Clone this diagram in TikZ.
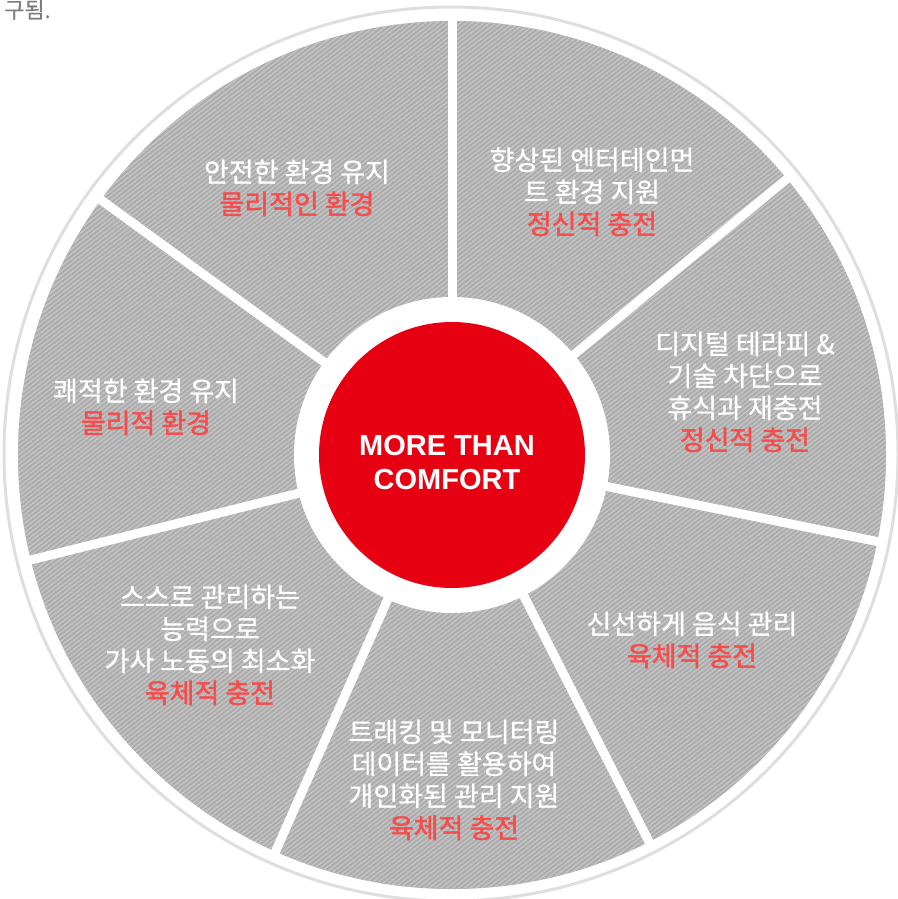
\documentclass[tikz,border=0pt]{standalone}
\usepackage{fontspec}
\setmainfont{Liberation Sans}
\newfontfamily\kr{Noto Sans CJK KR}[FakeBold=0.7]
\newfontfamily\krb{Noto Sans CJK KR}[FakeBold=1.6]
\usetikzlibrary{patterns.meta}
\definecolor{sectgray}{RGB}{172,172,172}
\definecolor{stripe}{RGB}{198,198,198}
\definecolor{ringgray}{RGB}{222,222,222}
\definecolor{corered}{RGB}{230,0,18}
\definecolor{labelred}{RGB}{246,76,76}
\definecolor{notegray}{RGB}{125,125,125}
\newcommand{\redline}[1]{{\krb\color{labelred}#1}}
\begin{document}
\begin{tikzpicture}[x=1pt,y=-1pt,
  lbl/.style={font=\kr\fontsize{27}{32}\selectfont, text=white, align=center, anchor=base, inner sep=0pt},
  sepline/.style={white, line width=9pt},
  sector/.style={preaction={fill=sectgray}, pattern={Lines[angle=38,distance=3.6pt,line width=1.3pt]}, pattern color=stripe},
  corecircle/.style={circle, fill=corered, minimum size=266pt, inner sep=0pt},
  coretext/.style={font=\bfseries\fontsize{29}{34}\selectfont, text=white, align=center, anchor=base, inner sep=0pt}]
\useasboundingbox (0,0) rectangle (897,899);
\coordinate (C) at (452,455);
\draw[ringgray, line width=3pt] (451,454) circle[radius=447pt];
\fill[sector] (C) circle[radius=434pt];
\foreach \a [count=\i] in {90,39.5,-11.5,-63,-114,-166,144}
  \draw[sepline] (C) -- ++(\a:441pt) coordinate (s\i);
\fill[white] (C) circle[radius=158pt];
\node[corecircle] (core) at (C) {};
\node[coretext] (coretxt) at (447,489) {MORE THAN\\COMFORT};
\node[anchor=base west, inner sep=0pt, font=\kr\fontsize{22}{26}\selectfont, text=notegray] (note) at (4,18) {구됨.};
\node[lbl] (l1) at (297,214) {안전한 환경 유지\\\redline{물리적인 환경}};
\node[lbl] (l2) at (592,234) {향상된 엔터테인먼\\트 환경 지원\\\redline{정신적 충전}};
\node[lbl] (l3) at (745,450) {디지털 테라피 \&\\기술 차단으로\\휴식과 재충전\\\redline{정신적 충전}};
\node[lbl] (l4) at (692,666) {신선하게 음식 관리\\\redline{육체적 충전}};
\node[lbl] (l5) at (454,838) {트래킹 및 모니터링\\데이터를 활용하여\\개인화된 관리 지원\\\redline{육체적 충전}};
\node[lbl] (l6) at (210,703) {스스로 관리하는\\능력으로\\가사 노동의 최소화\\\redline{육체적 충전}};
\node[lbl] (l7) at (146,433) {쾌적한 환경 유지\\\redline{물리적 환경}};
\end{tikzpicture}
\end{document}
